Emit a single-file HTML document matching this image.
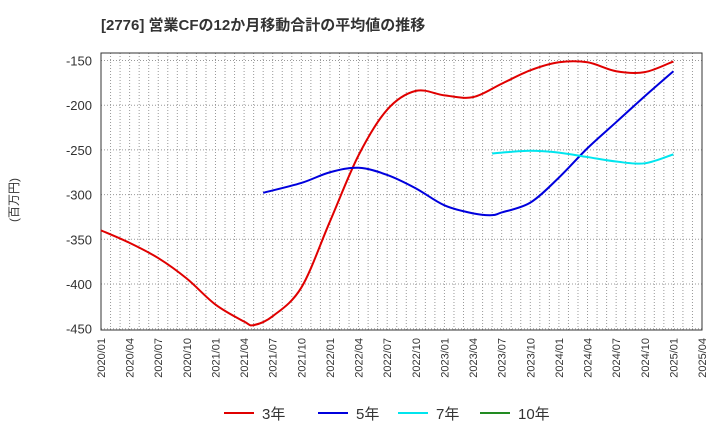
<!DOCTYPE html>
<html><head><meta charset="utf-8"><style>
body{margin:0;background:#fff;font-family:"Liberation Sans","Noto Sans CJK JP",sans-serif;}
</style></head><body>
<svg id="c" width="720" height="440" xmlns="http://www.w3.org/2000/svg" font-family="Liberation Sans, Noto Sans CJK JP, sans-serif"></svg>
<script>
const xLabels=["2020/01","2020/04","2020/07","2020/10","2021/01","2021/04","2021/07","2021/10","2022/01","2022/04","2022/07","2022/10","2023/01","2023/04","2023/07","2023/10","2024/01","2024/04","2024/07","2024/10","2025/01","2025/04"];
const yTicks=[-150,-200,-250,-300,-350,-400,-450];
const months3=[0,3,6,9,12,15,16,18,21,24,27,30,33,36,39,42,45,48,51,54,57,60];
const vals3=[-340,-354,-371,-394,-423,-442,-446,-436,-404,-330,-256,-205,-184,-189,-191,-176,-161,-152,-152,-162,-163,-151];
const months5=[17,21,24,27,30,33,36,39,41,42,45,48,51,54,57,60];
const vals5=[-298,-287,-275,-270,-278,-293,-312,-321,-323,-320,-309,-281,-248,-219,-190,-162];
const months7=[41,42,45,48,51,54,57,60];
const vals7=[-254,-253,-251,-253,-258,-263,-265,-255];
const L=101,R=702,T=53,B=330;
const X=m=>L+m*(R-L)/63;
const Y=v=>60.5+(-150-v)*44.7/50;
const svg=document.getElementById('c');
const NS='http://www.w3.org/2000/svg';
function el(t,a,p){const e=document.createElementNS(NS,t);for(const k in a)e.setAttribute(k,a[k]);(p||svg).appendChild(e);return e;}
let t=el('text',{x:101,y:30,'font-size':15,'font-weight':'bold',fill:'#333'});t.textContent='[2776]  営業CFの12か月移動合計の平均値の推移';

t=el('text',{x:18,y:200,'font-size':12,fill:'#333','text-anchor':'middle',transform:'rotate(-90 18 200)'});t.textContent='(百万円)';

for(let m=0;m<=63;m++){const g=el('line',{x1:X(m),x2:X(m),y1:T,y2:B,stroke:'#999','stroke-dasharray':'1,2','stroke-width':1});
}
yTicks.forEach(v=>{const g=el('line',{x1:L,x2:R,y1:Y(v),y2:Y(v),stroke:'#999','stroke-dasharray':'1,2'});

const tx=el('text',{x:92,y:Y(v)+5,'font-size':13,fill:'#333','text-anchor':'end'});tx.textContent=v;
});
xLabels.forEach((s,i)=>{const x=X(i*3)+4;const tx=el('text',{x:x,y:338,'font-size':11,fill:'#333','text-anchor':'end',transform:`rotate(-90 ${x} 338)`});tx.textContent=s;
});
const fr=el('rect',{x:L,y:T,width:R-L,height:B-T,fill:'none',stroke:'#333'});

function path(ms,vs){const p=ms.map((m,i)=>[X(m),Y(vs[i])]);let d=`M${p[0][0]},${p[0][1]}`;
for(let i=0;i<p.length-1;i++){const p0=p[i-1]||p[i],p1=p[i],p2=p[i+1],p3=p[i+2]||p2;
d+=` C${p1[0]+(p2[0]-p0[0])/6},${p1[1]+(p2[1]-p0[1])/6} ${p2[0]-(p3[0]-p1[0])/6},${p2[1]-(p3[1]-p1[1])/6} ${p2[0]},${p2[1]}`;}return d;}
[[months3,vals3,'#e00000','line-3yr'],[months5,vals5,'#0000dd','line-5yr'],[months7,vals7,'#00e5ee','line-7yr']].forEach(s=>{
const p=el('path',{d:path(s[0],s[1]),fill:'none',stroke:s[2],'stroke-width':2});
});
[['3年','#e00000',224],['5年','#0000dd',318],['7年','#00e5ee',398],['10年','#228b22',480]].forEach(l=>{
const g=el('g',{});
el('line',{x1:l[2],x2:l[2]+30,y1:413,y2:413,stroke:l[1],'stroke-width':2},g);
const tx=el('text',{x:l[2]+38,y:419,'font-size':15,fill:'#333'},g);tx.textContent=l[0];});
</script>
</body></html>
